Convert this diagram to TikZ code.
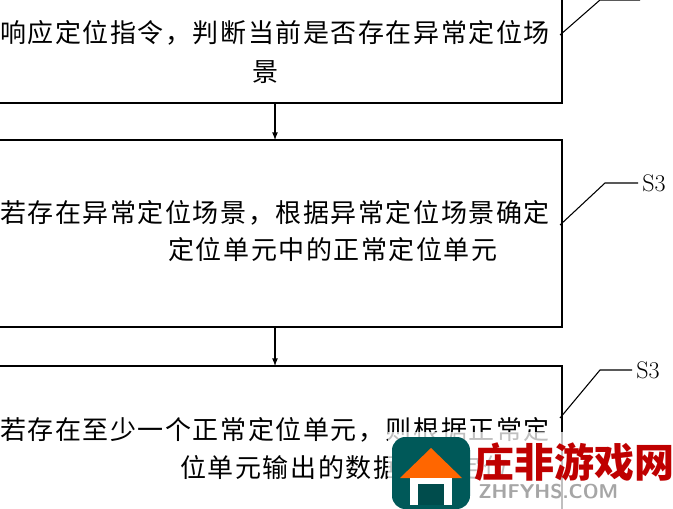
\documentclass[tikz,border=0pt]{standalone}
\usepackage{fontspec}
\newfontfamily\cjk[LetterSpace=6]{Noto Sans CJK SC}
\newfontfamily\cjkw{Noto Sans CJK SC}
\begin{document}
\begin{tikzpicture}[x=0.75pt,y=-0.75pt,
  box/.style={draw,line width=1pt},
  txt/.style={font=\cjk\fontsize{19.5}{22}\selectfont,inner sep=0pt},
  lab/.style={font=\fontsize{18}{20}\selectfont,inner sep=0pt,anchor=west},
  arr/.style={-latex,line width=1pt}]
\useasboundingbox (0,0) rectangle (673,509);
\clip (0,0) rectangle (673,509);
\draw[box] (-20,-20) rectangle (562,103);
\draw[box] (-20,140) rectangle (562,327);
\draw[box] (-20,366) rectangle (562,540);
\coordinate (a1) at (275,103); \coordinate (b1) at (275,140);
\coordinate (a2) at (275,327); \coordinate (b2) at (275,366);
\draw[arr] (a1) -- (b1);
\draw[arr] (a2) -- (b2);
\node[txt,anchor=east] (t1) at (550,33) {响应定位指令，判断当前是否存在异常定位场};
\node[txt] (t1b) at (265,72) {景};
\node[txt,anchor=east] (t2) at (550,213) {若存在异常定位场景，根据异常定位场景确定};
\node[txt] (t2b) at (333,250) {定位单元中的正常定位单元};
\node[txt,anchor=east] (t3) at (550,430) {若存在至少一个正常定位单元，则根据正常定};
\node[txt,anchor=west] (t3b) at (180,468) {位单元输出的数据进行定位};
\draw[line width=0.8pt] (560,35) -- (600,0) -- (640,0);
\draw[line width=0.8pt] (560,225) -- (605,183) -- (638,183);
\node[lab] (s2) at (642,183) {S3};
\draw[line width=0.8pt] (560,418) -- (600,370) -- (632,370);
\node[lab] (s3) at (636,370) {S3};
% watermark
\fill[white,opacity=0.75] (388,432) rectangle (673,509);
\fill[rounded corners=10pt,fill=teal!70!black] (392,437) rectangle (470,509);
\fill[orange!80!red] (400,478) -- (431,448) -- (462,478) -- cycle;
\fill[white] (410,478) rectangle (452,505);
\fill[teal!60!black] (418,484) rectangle (444,505);
\node[font=\cjkw\bfseries\fontsize{30}{32}\selectfont,text=red!75!black,anchor=west,inner sep=0pt] (wm) at (474,462) {庄非游戏网};
\node[font=\sffamily\bfseries\fontsize{15}{16}\selectfont,text=gray!70,anchor=west,inner sep=0pt] (wm2) at (478,492) {ZHFYHS.COM};
\end{tikzpicture}
\end{document}
